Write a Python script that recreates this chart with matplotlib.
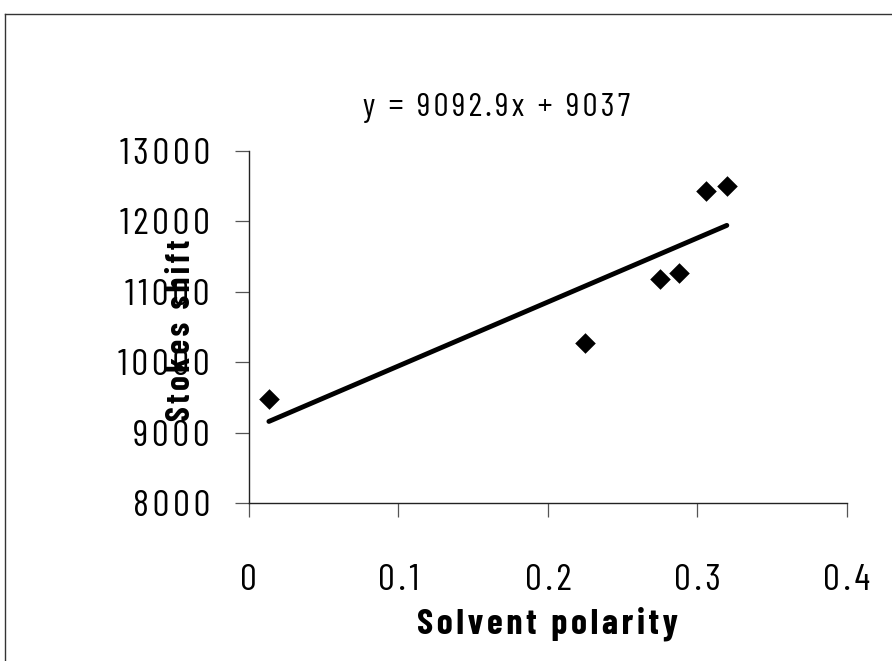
import matplotlib
matplotlib.use("Agg")
import matplotlib.pyplot as plt
from matplotlib.lines import Line2D
import numpy as np

# data
solvent_polarity = [0.0134, 0.2248, 0.2749, 0.2876, 0.3057, 0.3197]
stokes_shift = [9477, 10273, 11182, 11267, 12432, 12503]
trend_slope = 9092.9
trend_intercept = 9037
x_ticks = [0, 0.1, 0.2, 0.3, 0.4]
x_tick_labels = ["0", "0.1", "0.2", "0.3", "0.4"]
y_ticks = [8000, 9000, 10000, 11000, 12000, 13000]
y_tick_labels = ["8000", "9000", "10000", "11000", "12000", "13000"]

FONT = ["Barlow Condensed", "DejaVu Sans"]


def spaced(s):
    # wide letter spacing as in the scanned original
    return "\u200a".join(s)


def draw_chart():
    fig = plt.figure(figsize=(8.92, 6.61), dpi=100)
    ax = fig.add_axes([0.279, 0.239, 0.6704, 0.5325])

    ax.scatter(solvent_polarity, stokes_shift, marker="D", s=110,
               color="black", zorder=3, linewidths=0)

    xs = np.array([min(solvent_polarity), max(solvent_polarity)])
    ax.plot(xs, trend_slope * xs + trend_intercept, color="black",
            lw=3.5, solid_capstyle="round", zorder=2)

    ax.set_xlim(0, 0.4)
    ax.set_ylim(8000, 13000)
    ax.set_xticks(x_ticks)
    ax.set_xticklabels([spaced(t) for t in x_tick_labels])
    ax.set_yticks(y_ticks)
    ax.set_yticklabels([spaced(t) for t in y_tick_labels])
    for lab in ax.get_xticklabels() + ax.get_yticklabels():
        lab.set_family(FONT)
        lab.set_fontsize(27)

    ax.tick_params(axis="both", direction="out", length=10, width=0.9,
                   color="#555555")
    ax.tick_params(axis="y", pad=18)
    ax.tick_params(axis="x", pad=34)
    for side in ["top", "right"]:
        ax.spines[side].set_visible(False)
    for side in ["left", "bottom"]:
        ax.spines[side].set_linewidth(1.0)
        ax.spines[side].set_color("#222222")

    ax.set_xlabel(spaced("Solvent polarity"), family=FONT, fontsize=26,
                  fontweight="bold", labelpad=7)
    ax.set_ylabel(spaced("Stokes shift"), family=FONT, fontsize=24,
                  fontweight="bold")
    ax.yaxis.set_label_coords(-0.088, 0.49)

    fig.text(0.557, 0.836, spaced("y = 9092.9x + 9037"), family=FONT,
             fontsize=24, ha="center", va="center")

    # frame around the whole chart (only top and left edges are visible)
    fig.add_artist(Line2D([0.0056, 1.0], [0.979, 0.979], color="#333333",
                          lw=1.0, transform=fig.transFigure))
    fig.add_artist(Line2D([0.0056, 0.0056], [0.0, 0.979], color="#333333",
                          lw=1.0, transform=fig.transFigure))

    fig.savefig("out.png", dpi=100)


if __name__ == "__main__":
    draw_chart()
